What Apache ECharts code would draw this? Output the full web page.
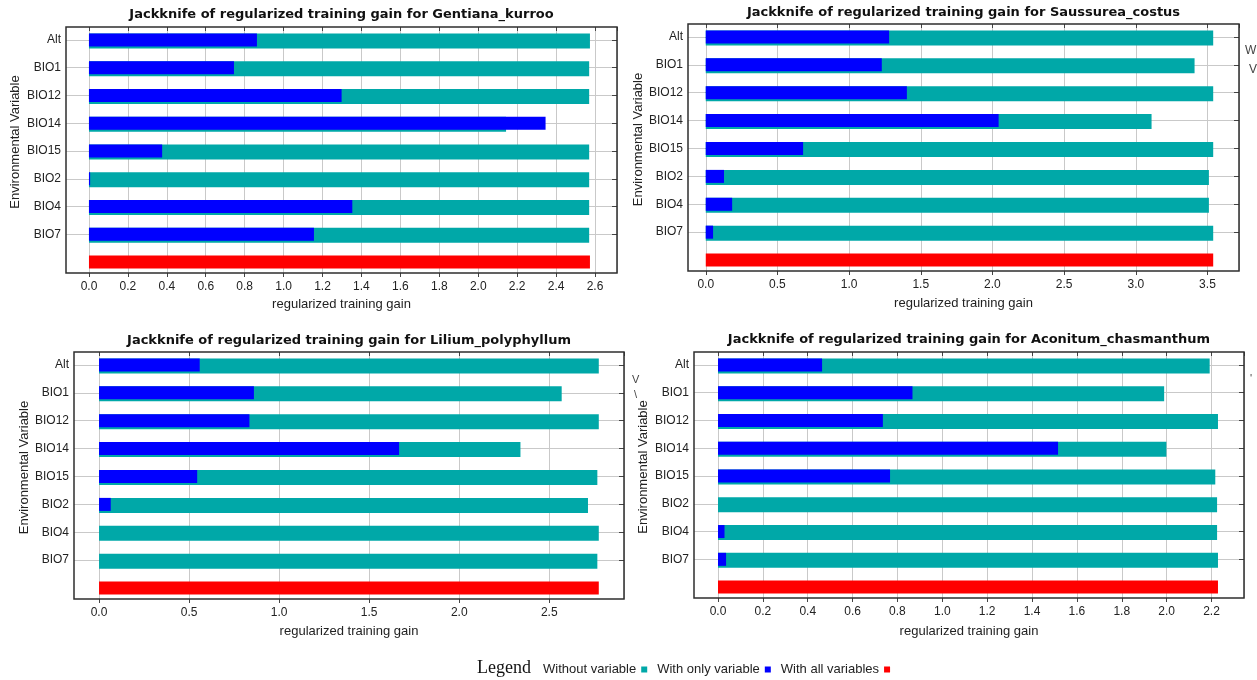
<!DOCTYPE html>
<html><head><meta charset="utf-8">
<script src="https://cdn.jsdelivr.net/npm/echarts@6/dist/echarts.min.js"></script>
<style>html,body{margin:0;padding:0;background:#fff}#c{width:1257px;height:680px}</style>
</head><body><div id="c"></div>
<script>
// ---------- data ----------
const categories = ['Alt', 'BIO1', 'BIO12', 'BIO14', 'BIO15', 'BIO2', 'BIO4', 'BIO7', ''];
const species = ['Gentiana_kurroo', 'Saussurea_costus', 'Lilium_polyphyllum', 'Aconitum_chasmanthum'];
const seriesNames = ['Without variable', 'With only variable', 'With all variables'];

const withoutGentiana = [2.574, 2.570, 2.570, 2.143, 2.570, 2.570, 2.570, 2.570];
const onlyGentiana    = [0.863, 0.745, 1.298, 2.346, 0.376, 0.006, 1.353, 1.156];
const allGentiana     = 2.574;

const withoutSaussurea = [3.54, 3.41, 3.54, 3.11, 3.54, 3.51, 3.51, 3.54];
const onlySaussurea    = [1.279, 1.228, 1.403, 2.043, 0.679, 0.127, 0.184, 0.051];
const allSaussurea     = 3.54;

const withoutLilium = [2.775, 2.569, 2.775, 2.340, 2.767, 2.715, 2.775, 2.767];
const onlyLilium    = [0.559, 0.860, 0.835, 1.666, 0.545, 0.065, 0, 0];
const allLilium     = 2.775;

const withoutAconitum = [2.192, 1.989, 2.229, 1.999, 2.217, 2.225, 2.225, 2.229];
const onlyAconitum    = [0.464, 0.867, 0.735, 1.516, 0.767, 0, 0.029, 0.036];
const allAconitum     = 2.229;

// axis extents and tick step of the x axes
const axisMin = [-0.118, -0.124, -0.139, -0.107];
const axisMax = [2.713, 3.72, 2.915, 2.345];
const tickInterval = [0.2, 0.5, 0.5, 0.2];

const panelWithout = [withoutGentiana, withoutSaussurea, withoutLilium, withoutAconitum];
const panelOnly = [onlyGentiana, onlySaussurea, onlyLilium, onlyAconitum];
const panelAll = [allGentiana, allSaussurea, allLilium, allAconitum];

// ---------- layout (pixels) ----------
const frames = [
  { l: 66,  r: 617,  t: 27,  b: 273, titleTop: 8,   nameGapY: 44, nameGapX: 25 },
  { l: 688, r: 1239, t: 24,  b: 271, titleTop: 6,   nameGapY: 43, nameGapX: 26 },
  { l: 74,  r: 624,  t: 352, b: 599, titleTop: 334, nameGapY: 43, nameGapX: 26 },
  { l: 694, r: 1244, t: 352, b: 598, titleTop: 333, nameGapY: 44, nameGapX: 27 }
];

const TEAL = '#00a8a8', BLUE = '#0000ff', RED = '#ff0000';
const GRIDLINE = '#c9c9c9', FRAME = '#2e2e2e';
const SANS = 'Liberation Sans';

const grid = [], xAxis = [], yAxis = [], series = [], title = [];
const tickFilter = (idx) => idx < categories.length - 1;

frames.forEach((f, i) => {
  const w = f.r - f.l, h = f.b - f.t;
  const zeroPx = f.l + (0 - axisMin[i]) / (axisMax[i] - axisMin[i]) * w;
  const gA = grid.length, gB = gA + 1, gC = gA + 2;
  // frame grid
  grid.push({ left: f.l, top: f.t, width: w, height: h, show: true, borderColor: FRAME, borderWidth: 1.5, backgroundColor: 'transparent', z: 3 });
  // bars grid
  grid.push({ left: f.l, top: f.t - 1, width: w, height: h + 4 });
  // tick grid (starts at 0)
  grid.push({ left: zeroPx, top: f.t, width: f.r - zeroPx, height: h });

  const xA = xAxis.length;
  xAxis.push({
    gridIndex: gA, type: 'value', min: axisMin[i], max: axisMax[i],
    axisLine: { show: false }, axisTick: { show: false }, axisLabel: { show: false }, splitLine: { show: false },
    name: 'regularized training gain', nameLocation: 'middle', nameGap: f.nameGapX,
    nameTextStyle: { fontFamily: SANS, fontSize: 13, color: '#222' }
  });
  xAxis.push({ gridIndex: gB, type: 'value', min: axisMin[i], max: axisMax[i], show: false });
  xAxis.push({
    gridIndex: gC, type: 'value', position: 'bottom', min: 0, max: axisMax[i], interval: tickInterval[i],
    axisLine: { show: false },
    axisTick: { show: true, length: 4, lineStyle: { color: '#444' } },
    axisLabel: { show: true, showMaxLabel: false, margin: 8, fontFamily: SANS, fontSize: 12, color: '#222',
      formatter: (v) => v.toFixed(1) },
    splitLine: { show: true, lineStyle: { color: GRIDLINE, width: 1 } }
  });
  xAxis.push({
    gridIndex: gC, type: 'value', position: 'top', min: 0, max: axisMax[i], interval: tickInterval[i],
    axisLine: { show: false },
    axisTick: { show: true, inside: true, length: 4, lineStyle: { color: '#444' } },
    axisLabel: { show: false }, splitLine: { show: false }
  });

  const yA = yAxis.length;
  yAxis.push({ gridIndex: gA, type: 'value', show: false });
  yAxis.push({
    gridIndex: gB, type: 'category', data: categories, inverse: true, position: 'left',
    axisLine: { show: false },
    axisTick: { show: true, inside: true, length: 5, alignWithLabel: true, interval: tickFilter, lineStyle: { color: '#444' } },
    axisLabel: { margin: 5, fontFamily: SANS, fontSize: 12, color: '#222' },
    splitLine: { show: true, alignWithLabel: true, interval: tickFilter, lineStyle: { color: GRIDLINE, width: 1 } },
    name: 'Environmental Variable', nameLocation: 'middle', nameGap: f.nameGapY,
    nameTextStyle: { fontFamily: SANS, fontSize: 13, color: '#222', padding: [0, 0, 0, 18] }
  });
  yAxis.push({
    gridIndex: gB, type: 'category', data: categories, inverse: true, position: 'right',
    axisLine: { show: false },
    axisTick: { show: true, inside: true, length: 5, alignWithLabel: true, interval: tickFilter, lineStyle: { color: '#444' } },
    axisLabel: { show: false }, splitLine: { show: false }
  });
  yAxis.push({ gridIndex: gC, type: 'value', show: false });

  const n = categories.length - 1;
  const common = { type: 'bar', xAxisIndex: xA + 1, yAxisIndex: yA + 1, barGap: '-100%', animation: false };
  series.push(Object.assign({}, common, {
    name: seriesNames[0], barWidth: 15, itemStyle: { color: TEAL },
    data: panelWithout[i].concat(['-'])
  }));
  series.push(Object.assign({}, common, {
    name: seriesNames[1], barWidth: 13, itemStyle: { color: BLUE },
    data: panelOnly[i].concat(['-'])
  }));
  series.push(Object.assign({}, common, {
    name: seriesNames[2], barWidth: 13, itemStyle: { color: RED },
    data: new Array(n).fill('-').concat([panelAll[i]])
  }));

  title.push({
    text: 'Jackknife of regularized training gain for ' + species[i],
    left: (f.l + f.r) / 2, top: f.titleTop, textAlign: 'center', padding: 0,
    textStyle: { fontFamily: 'DejaVu Sans', fontWeight: 'bold', fontSize: 13, color: '#111' }
  });
});

title.push({
  text: 'Legend', left: 477, top: 659, padding: 0,
  textStyle: { fontFamily: 'Liberation Serif', fontWeight: 'normal', fontSize: 18, color: '#111' }
});

const option = {
  backgroundColor: '#fff',
  animation: false,
  title: title,
  legend: {
    data: seriesNames, left: 543, top: 663, padding: 0, align: 'right', icon: 'rect',
    itemWidth: 6, itemHeight: 6, itemGap: 10, selectedMode: false,
    textStyle: { fontFamily: SANS, fontSize: 13, color: '#222' }
  },
  grid: grid, xAxis: xAxis, yAxis: yAxis, series: series,
  graphic: [
    { type: 'text', left: 1245, top: 45, style: { text: 'W', font: '12px "Liberation Sans"', fill: '#444' } },
    { type: 'text', left: 1249, top: 64, style: { text: 'V', font: '12px "Liberation Sans"', fill: '#444' } },
    { type: 'text', left: 632, top: 374, style: { text: 'V', font: '11px "Liberation Sans"', fill: '#444' } },
    { type: 'text', left: 634, top: 389, style: { text: '\\', font: '11px "Liberation Sans"', fill: '#444' } },
    { type: 'text', left: 1250, top: 373, style: { text: "'", font: '11px "Liberation Sans"', fill: '#444' } }
  ]
};

const chart = echarts.init(document.getElementById('c'), null, { renderer: 'canvas' });
chart.setOption(option);
</script>
</body></html>
